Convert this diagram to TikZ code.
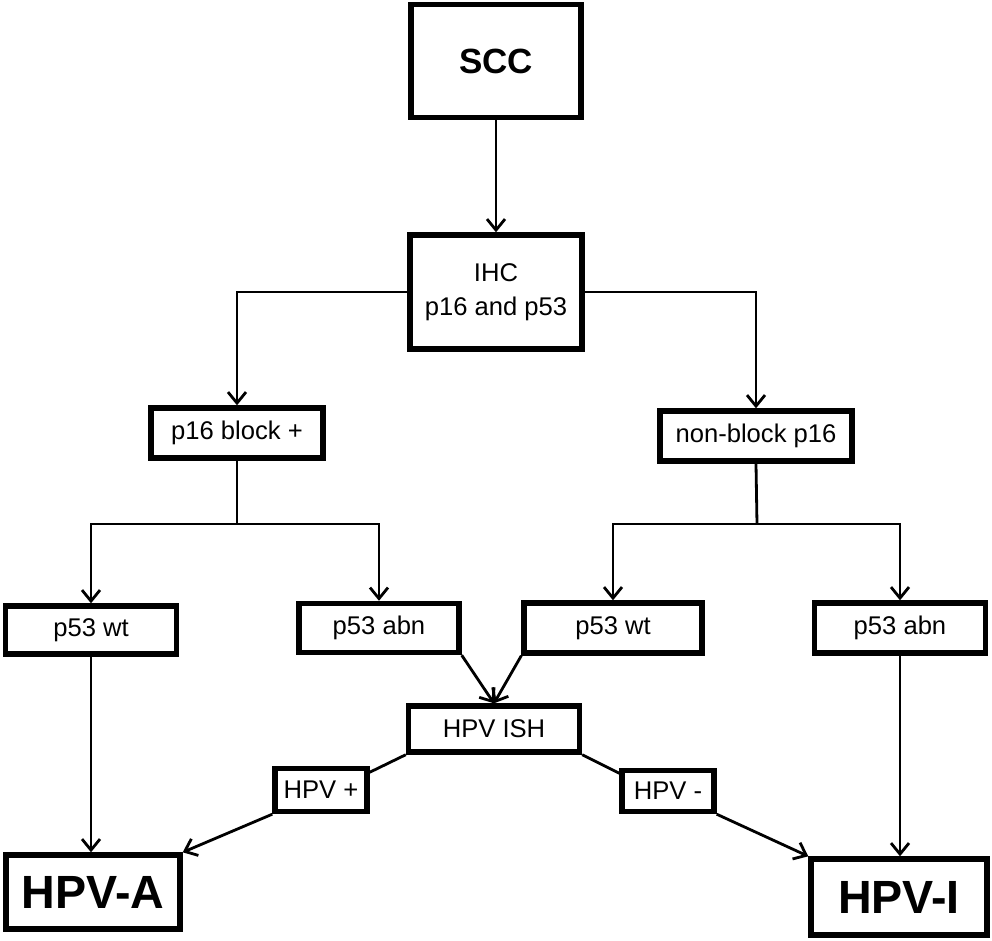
\documentclass[tikz,border=0pt]{standalone}
\usepackage{fontspec}
\setmainfont{Liberation Sans}
\usetikzlibrary{arrows.meta}

\begin{document}
\begin{tikzpicture}[x=0.5pt, y=-0.5pt, >={Straight Barb[length=5.5pt,width=9pt,line width=1.4pt]}, line width=1.4pt,
		box/.style={draw, line width=2.7pt, inner sep=0pt, align=center, font=\fontsize{12.8}{17}\selectfont},
		bigbox/.style={box, font=\fontsize{23.3}{26}\selectfont\bfseries}]
	% 0. page frame
	\useasboundingbox (0,0) rectangle (992,941);

	% 1. top of the tree
	\node[box, minimum width=85pt, minimum height=56.5pt, font=\fontsize{17.5}{20}\selectfont\bfseries] (scc) at (496,61) {SCC};
	\node[box, minimum width=86pt, minimum height=57pt] (ihc) at (496,292) {IHC\\p16 and p53};

	% 2. p16 result
	\node[box, minimum width=86pt, minimum height=25pt] (p16) at (237,433) {p16 block +};
	\node[box, minimum width=96pt, minimum height=25pt] (nonblock) at (756,436) {non-block p16};

	% 3. p53 result
	\node[box, minimum width=85.5pt, minimum height=24pt] (wtL) at (91,630) {p53 wt};
	\node[box, minimum width=80pt, minimum height=24.5pt] (abnL) at (379,628) {p53 abn};
	\node[box, minimum width=89pt, minimum height=25pt] (wtR) at (613,628) {p53 wt};
	\node[box, minimum width=85.5pt, minimum height=25pt] (abnR) at (900,628) {p53 abn};

	% 4. in situ hybridisation
	\node[box, minimum width=85.5pt, minimum height=23pt] (ish) at (494,729) {HPV ISH};
	\node[box, minimum width=46pt, minimum height=21.5pt] (hpvpos) at (321,790) {HPV +};
	\node[box, minimum width=46pt, minimum height=20.5pt] (hpvneg) at (668,791) {HPV -};

	% 5. final classes
	\node[bigbox, minimum width=87pt, minimum height=37pt] (hpvA) at (93,892) {HPV-A};
	\node[bigbox, minimum width=88pt, minimum height=38pt] (hpvI) at (899,897) {HPV-I};

	% 6. connectors
	\coordinate (splitL) at (237,524);
	\coordinate (splitR) at (757,524);
	\draw[->] (scc) -- (ihc);
	\draw[->] (ihc.west) -| (p16.north);
	\draw[->] (ihc.east) -| (nonblock.north);
	\draw (p16.south) -- (splitL);
	\draw[->] (splitL) -| (wtL.north);
	\draw[->] (splitL) -| (abnL.north);
	\draw (nonblock.south) -- (splitR);
	\draw[->] (splitR) -| (wtR.north);
	\draw[->] (splitR) -| (abnR.north);
	\draw[->] (abnL.south east) -- (ish.north);
	\draw[->] (wtR.south west) -- (ish.north);
	\draw (ish.south west) -- (hpvpos.20);
	\draw[->] (hpvpos.south west) -- (hpvA.north east);
	\draw (ish.south east) -- (hpvneg.160);
	\draw[->] (hpvneg.south east) -- (hpvI.north west);
	\draw[->] (wtL.south) -- (wtL.south |- hpvA.north);
	\draw[->] (abnR.south) -- (abnR.south |- hpvI.north);
\end{tikzpicture}
\end{document}
